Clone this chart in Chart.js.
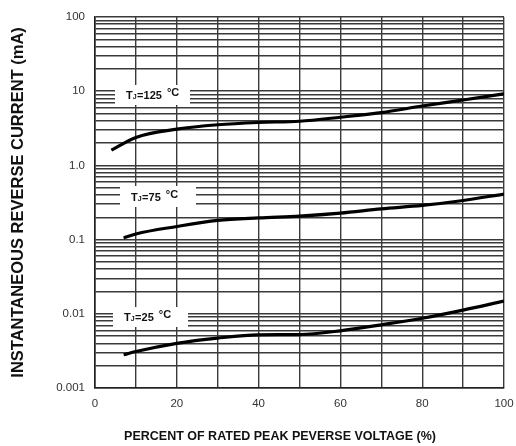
<!DOCTYPE html>
<html>
<head>
<meta charset="utf-8">
<script src="https://cdn.jsdelivr.net/npm/chart.js@4.4.1/dist/chart.umd.min.js"></script>
<style>
  html, body { margin: 0; padding: 0; background: #fff; }
  #wrap { width: 516px; height: 446px; }
</style>
</head>
<body>
<div id="wrap"><canvas id="myChart" width="516" height="446"></canvas></div>
<script>
// data (x = % of rated voltage, y = mA)
const tj125X = [4, 10, 20, 30, 40, 50, 60, 70, 80, 90, 100];
const tj125Y = [1.6, 2.38, 3.07, 3.52, 3.78, 3.93, 4.45, 5.14, 6.3, 7.6, 9.2];

const tj75X = [7, 10, 20, 30, 40, 50, 60, 70, 80, 90, 100];
const tj75Y = [0.105, 0.119, 0.150, 0.181, 0.196, 0.207, 0.227, 0.259, 0.288, 0.336, 0.41];

const tj25X = [7, 10, 20, 30, 40, 50, 60, 70, 80, 90, 100];
const tj25Y = [0.0028, 0.0031, 0.0040, 0.0047, 0.0052, 0.00525, 0.0059, 0.0071, 0.0087, 0.0112, 0.0148];

const decades = [0.001, 0.01, 0.1, 1, 10, 100];
const yTickLabels = ['0.001', '0.01', '0.1', '1.0', '10', '100'];
const xTickLabels = ['0', '20', '40', '60', '80', '100'];

const seriesNames = ['125', '75', '25'];
const xTitle = 'PERCENT OF RATED PEAK PEVERSE VOLTAGE (%)';

const FONT = "'Liberation Sans', Arial, sans-serif";
const GRID = '#3a3a3a';

function pairs(xs, ys) {
  return xs.map((x, i) => ({ x: x, y: ys[i] }));
}

function curve(label, xs, ys) {
  return {
    label: label,
    data: pairs(xs, ys),
    borderColor: '#000',
    borderWidth: 3.2,
    pointRadius: 0,
    cubicInterpolationMode: 'monotone',
    fill: false
  };
}

// white label boxes with the junction temperature text, plus x title
const tempLabels = {
  id: 'tempLabels',
  afterDraw(chart) {
    const ctx = chart.ctx;
    // [temp, box x, box y, box w, box h]
    const boxes = [
      [seriesNames[0], 115, 85, 75, 20],
      [seriesNames[1], 120, 186, 76, 21],
      [seriesNames[2], 113, 307, 75, 20]
    ];
    ctx.save();
    boxes.forEach(b => {
      const [t, bx, by, bw, bh] = b;
      ctx.fillStyle = '#fff';
      ctx.fillRect(bx, by, bw, bh);
      const base = by + bh / 2 + 4;
      let x = bx + 11;
      ctx.fillStyle = '#111';
      ctx.textBaseline = 'alphabetic';
      ctx.textAlign = 'left';
      ctx.font = 'bold 11px ' + FONT;
      ctx.fillText('T', x, base);
      x += ctx.measureText('T').width;
      ctx.font = 'bold 7px ' + FONT;
      ctx.fillText('J', x, base);
      x += ctx.measureText('J').width + 0.5;
      ctx.font = 'bold 11px ' + FONT;
      ctx.fillText('=' + t, x, base);
      x += ctx.measureText('=' + t).width + 5;
      ctx.font = 'bold 11px ' + FONT;
      ctx.fillText('\u00b0C', x, base - 3);
    });

    ctx.font = 'bold 12.5px ' + FONT;
    ctx.textAlign = 'center';
    ctx.textBaseline = 'middle';
    ctx.fillText(xTitle, 280, 437);
    ctx.restore();
  }
};

const myChartRef = document.getElementById('myChart').getContext('2d');
new Chart(myChartRef, {
  type: 'line',
  data: {
    datasets: [
      curve(seriesNames[0], tj125X, tj125Y),
      curve(seriesNames[1], tj75X, tj75Y),
      curve(seriesNames[2], tj25X, tj25Y)
    ]
  },
  options: {
    responsive: false,
    animation: false,
    devicePixelRatio: 1,
    layout: { padding: { top: 15, right: 12, left: 0, bottom: 0 } },
    plugins: {
      legend: { display: false },
      tooltip: { enabled: false }
    },
    scales: {
      x: {
        type: 'linear',
        min: 0,
        max: 100,
        afterFit(scale) {
          scale.height = 58;
          scale.paddingRight = 0;
          scale.paddingLeft = 0;
        },
        ticks: {
          stepSize: 10,
          autoSkip: false,
          maxRotation: 0,
          padding: 9,
          color: '#333',
          font: { family: FONT, size: 11.5 },
          callback: (v) => (v % 20 === 0 ? xTickLabels[v / 20] : '')
        },
        grid: { color: GRID, lineWidth: 1.4, drawTicks: false },
        border: { color: '#222', width: 1.6 },
        title: { display: false }
      },
      y: {
        type: 'logarithmic',
        min: 0.001,
        max: 100,
        afterFit(scale) { scale.width = 95; },
        afterBuildTicks(scale) {
          const t = [];
          decades.forEach((d, i) => {
            t.push({ value: d });
            if (i < decades.length - 1) {
              for (let m = 2; m <= 9; m++) t.push({ value: d * m });
            }
          });
          scale.ticks = t;
        },
        ticks: {
          autoSkip: false,
          padding: 10,
          color: '#333',
          font: { family: FONT, size: 11.5 },
          callback: (v) => {
            const i = decades.findIndex(d => Math.abs(d - v) / d < 1e-6);
            return i >= 0 ? yTickLabels[i] : '';
          }
        },
        grid: { color: GRID, lineWidth: 1.4, drawTicks: false },
        border: { color: '#222', width: 1.6 },
        title: {
          display: true,
          text: 'INSTANTANEOUS REVERSE CURRENT (mA)',
          color: '#111',
          font: { family: FONT, size: 16.5, weight: 'bold' },
          padding: { top: 9, bottom: 0 }
        }
      }
    }
  },
  plugins: [tempLabels]
});
</script>
</body>
</html>
